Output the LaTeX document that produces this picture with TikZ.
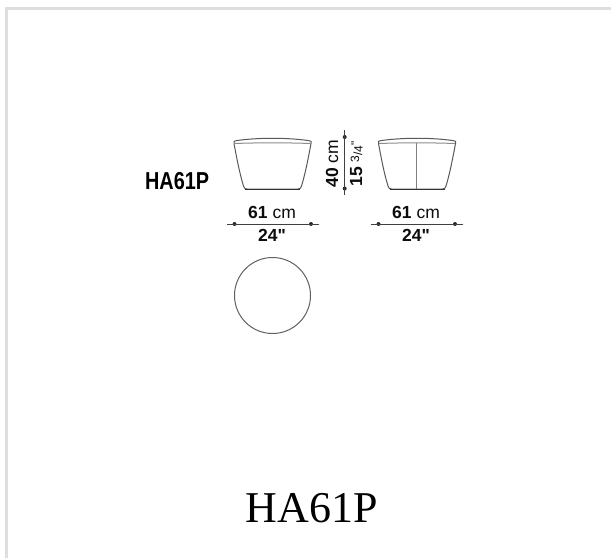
\documentclass[tikz,border=0pt]{standalone}
\usepackage{fontspec}
\setmainfont{Liberation Sans}
\newfontfamily\titlefont{Liberation Serif}
\newfontfamily\dimfont{Liberation Sans}
\tikzset{
  x=1pt,y=-1pt,
  frameline/.style={draw=black!13,line width=3pt},
  outline/.style={draw=black!65,line width=1pt,line join=round},
  baseline/.style={draw=black!80,line width=1.4pt},
  seam/.style={draw=black!50,line width=1pt},
  dimline/.style={draw=black!75,line width=0.7pt},
  dimdot/.style={circle,fill=black!85,inner sep=0pt,minimum size=4pt},
  dimtext/.style={inner sep=0pt,font=\fontsize{17.5}{17.5}\dimfont,text=black!95},
  codelabel/.style={inner sep=0pt,font=\fontsize{24.5}{24.5}\dimfont\bfseries,text=black,xscale=0.81,anchor=base west},
  titlelabel/.style={inner sep=0pt,font=\fontsize{44}{44}\titlefont,text=black,anchor=base}
}
\newcommand{\seatshape}[1]{%
  \begin{scope}[shift={(#1,0)}]
    \draw[outline] (0,143.5) .. controls (-1,141.5) and (0,141) .. (3,140.5)
      .. controls (25,137.5) and (52,137.5) .. (74,140.5)
      .. controls (77,141) and (78,141.5) .. (77,143.5)
      .. controls (74.5,157) and (71.5,173) .. (67.5,186)
      .. controls (67,188) and (66,189) .. (64,189)
      -- (13,189) .. controls (11,189) and (10,188) .. (9.5,186)
      .. controls (5.5,173) and (2.5,157) .. (0,143.5) -- cycle;
    \draw[outline,draw=black!45] (0.5,143.5) .. controls (25,142.6) and (52,142.6) .. (76.5,143.5);
    \draw[baseline] (11,189.3) -- (66,189.3);
  \end{scope}}
\begin{document}
\begin{tikzpicture}
\useasboundingbox (0,0) rectangle (611,558);
\fill[white] (0,0) rectangle (611,558);
\coordinate (frameA) at (6.5,558);
\coordinate (frameB) at (6.5,8.5);
\coordinate (frameC) at (611,8.5);
\draw[frameline] (frameA) -- (frameB) -- (frameC);

\node[codelabel] (code) at (145,189.5) {HA61P};

\seatshape{234}
\seatshape{378.5}
\coordinate (seamtop) at (416.8,143);
\coordinate (seambottom) at (416.8,188.5);
\draw[seam] (seamtop) -- (seambottom);

% left width dimension
\coordinate (la) at (227,224);
\coordinate (lb) at (319,224);
\node[dimdot] (ld1) at (234.5,224) {};
\node[dimdot] (ld2) at (311,224) {};
\draw[dimline] (la) -- (lb);
\node[dimtext,anchor=base] (l61) at (272,218.5) {\textbf{61} cm};
\node[dimtext,anchor=base] (l24) at (272,241) {\textbf{24"}};

% right width dimension
\coordinate (ra) at (370.5,224);
\coordinate (rb) at (463,224);
\node[dimdot] (rd1) at (378.5,224) {};
\node[dimdot] (rd2) at (455,224) {};
\draw[dimline] (ra) -- (rb);
\node[dimtext,anchor=base] (r61) at (416,218.5) {\textbf{61} cm};
\node[dimtext,anchor=base] (r24) at (416,241) {\textbf{24"}};

% height dimension
\coordinate (ha) at (344.7,130);
\coordinate (hb) at (344.7,195);
\node[dimdot] (hd1) at (344.7,137) {};
\node[dimdot] (hd2) at (344.7,188.5) {};
\draw[dimline] (ha) -- (hb);
\node[dimtext,rotate=90,anchor=base] (h40) at (338,163.5) {\textbf{40} cm};
\node[dimtext,rotate=90,anchor=base] (h15) at (362,164) {\textbf{15} {\fontsize{12}{12}\selectfont\raisebox{3pt}{3}/\raisebox{-0.5pt}{4}\raisebox{2.5pt}{"}}};

\node[circle,draw=black!62,line width=1pt,minimum size=76pt,inner sep=0pt] (top) at (272.5,295.5) {};

\node[titlelabel] (title) at (312,522) {HA61P};
\end{tikzpicture}
\end{document}
